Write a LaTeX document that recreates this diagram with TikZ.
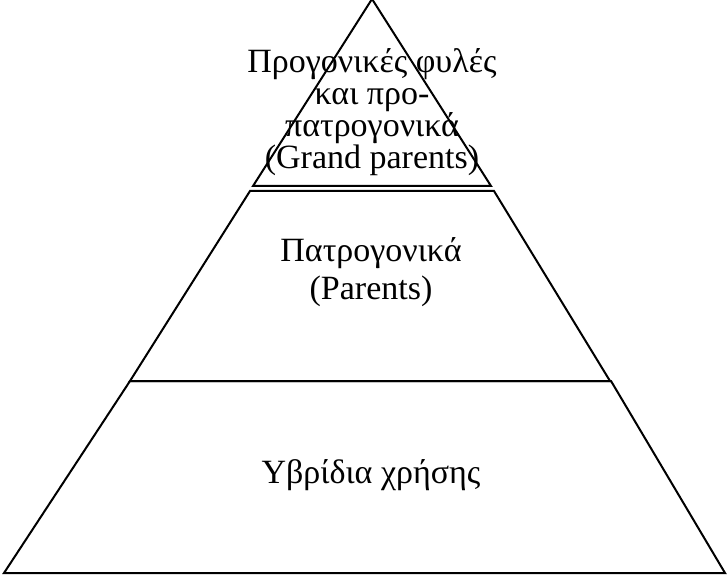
\documentclass[tikz,border=0pt]{standalone}
\usepackage{fontspec}
\setmainfont{Liberation Serif}
\begin{document}
\begin{tikzpicture}[x=1pt,y=-1pt,
  tier/.style={draw=black,line width=2pt,line join=miter},
  lbl/.style={align=center,inner sep=0pt,anchor=base,font=\fontsize{34}{32}\selectfont}]
\useasboundingbox (0,0) rectangle (727,577);
% top triangle
\draw[tier] (372,-1) -- (491,186) -- (253,186) -- cycle;
% middle trapezoid
\draw[tier] (250,191) -- (494,191) -- (610,381) -- (130,381) -- cycle;
% bottom trapezoid
\draw[tier] (130,381) -- (611,381) -- (725,573) -- (4,573) -- cycle;
\node[lbl] (top) at (372,169) {Προγονικές φυλές\\και προ-\\πατρογονικά\\(Grand parents)};
\node[lbl,font=\fontsize{34}{38}\selectfont] (mid) at (371,299) {Πατρογονικά\\(Parents)};
\node[lbl] (bot) at (371,483) {Υβρίδια χρήσης};
\end{tikzpicture}
\end{document}
